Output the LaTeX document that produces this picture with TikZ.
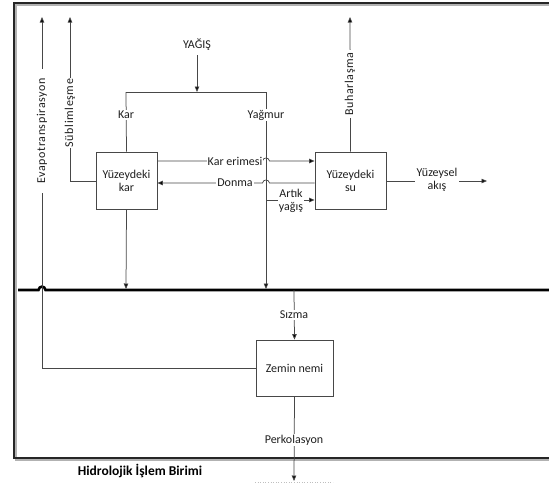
\documentclass[tikz,border=0pt]{standalone}
\usepackage{fontspec}
\setmainfont{Carlito}
\newfontfamily\spaced[LetterSpace=5]{Carlito}
\usetikzlibrary{arrows.meta}
\definecolor{ln}{HTML}{474747}
\definecolor{tx}{HTML}{1F1F1F}
\tikzset{
  conn/.style={draw=ln, line width=0.75pt},
  arr/.style={conn, -{Triangle[length=5.5pt,width=4.5pt,fill=black]}},
  box/.style={draw=ln, line width=0.8pt, align=center, inner sep=1pt, text=tx},
  lbl/.style={fill=white, inner sep=1.2pt, align=center, text=tx, font=\fontsize{12}{13}\selectfont},
  vlbl/.style={lbl, rotate=90, font=\fontsize{12}{13}\spaced},
}
\begin{document}
\begin{tikzpicture}[x=1pt,y=-1pt, font=\fontsize{12}{13}\selectfont]
\useasboundingbox (0,0) rectangle (549,483);
% frame with shadow
\draw[black!30, line width=1.5pt] (16,5) rectangle (562,460);
\draw[black!85, line width=1.6pt] (14,3) rectangle (560,458);
% boxes
\node[box, minimum width=61pt, minimum height=57pt] (kar) at (126.5,180.5) {Yüzeydeki\\kar};
\node[box, minimum width=71pt, minimum height=57pt] (su) at (350.5,180.5) {Yüzeydeki\\su};
\node[box, minimum width=77pt, minimum height=56pt] (zemin) at (294.5,368) {Zemin nemi};
% coordinates
\coordinate (split) at (197,92);
\coordinate (kl) at (126,92);
\coordinate (yl) at (266,92);
\coordinate (ygnd) at (266,289);
\coordinate (kgnd) at (126,289);
\coordinate (ke) at (0,161);
\coordinate (dn) at (0,183);
\coordinate (ay) at (266,200);
\coordinate (akis) at (487,181);
\coordinate (bup) at (350,17);
\coordinate (sup) at (70,17);
\coordinate (scorner) at (70,181);
\coordinate (eup) at (42,17);
\coordinate (ecorner) at (42,368);
\coordinate (szt) at (294,290);
\coordinate (perk) at (294,481);
% thick ground line with hop
\draw[black, line width=2.6pt] (18,290) -- (38.5,290) .. controls (39,285.5) and (45,285.5) .. (45.5,290) -- (560,290);
% precipitation
\node[lbl] (yagis) at (197,45) {YAĞIŞ};
\draw[arr] (yagis.south) ++(0,3) -- (split);
\draw[conn] (kl) -- (yl);
\draw[conn] (kl) -- (kar.north);
\draw[arr] (yl) -- (ygnd);
\node[lbl] (karl) at (126,115) {Kar};
\node[lbl] (yagmur) at (266,115) {Yağmur};
\draw[arr] (kar.south) -- (kgnd);
% kar erimesi with hop
\draw[arr] (kar.east |- ke) -- (262.5,161) .. controls (263,157) and (269,157) .. (269.5,161) -- (su.west |- ke);
\node[lbl] (kerl) at (235,161) {Kar erimesi};
% donma with hop
\draw[arr] (su.west |- dn) -- (269.5,183) .. controls (269,179) and (263,179) .. (262.5,183) -- (kar.east |- dn);
\node[lbl] (donl) at (235,183) {Donma};
% artik yagis
\draw[arr] (ay) -- (su.west |- ay);
\node[lbl, inner sep=0.5pt] (ayl) at (291,201) {Artık\\yağış};
% yuzeysel akis
\draw[arr] (su.east |- akis) -- (akis);
\node[lbl, inner ysep=0pt] (akl) at (437,180) {Yüzeysel\\akış};
% buharlasma
\draw[arr] (su.north) -- (bup);
\node[vlbl, inner xsep=2.5pt] (buh) at (350,84) {Buharlaşma};
% sublimlesme
\draw[arr] (kar.west |- scorner) -- (scorner) -- (sup);
\node[vlbl] (sub) at (70,113) {Süblimleşme};
% evapotranspirasyon
\draw[arr] (zemin.west) -- (ecorner) -- (eup);
\node[vlbl, inner xsep=9pt, inner ysep=5pt] (evap) at (42,131) {Evapotranspirasyon};
% sizma
\draw[arr] (szt) -- (zemin.north);
\node[lbl] (szl) at (294,315) {Sızma};
% perkolasyon
\draw[arr] (zemin.south) -- (perk);
\node[lbl] (perkl) at (294,440) {Perkolasyon};
\draw[black!25, dotted, line width=0.6pt] (255,482.5) -- (333,482.5);
% title
\node[text=black, font=\fontsize{13.5}{15}\bfseries] (title) at (140,471) {Hidrolojik İşlem Birimi};
\end{tikzpicture}
\end{document}
